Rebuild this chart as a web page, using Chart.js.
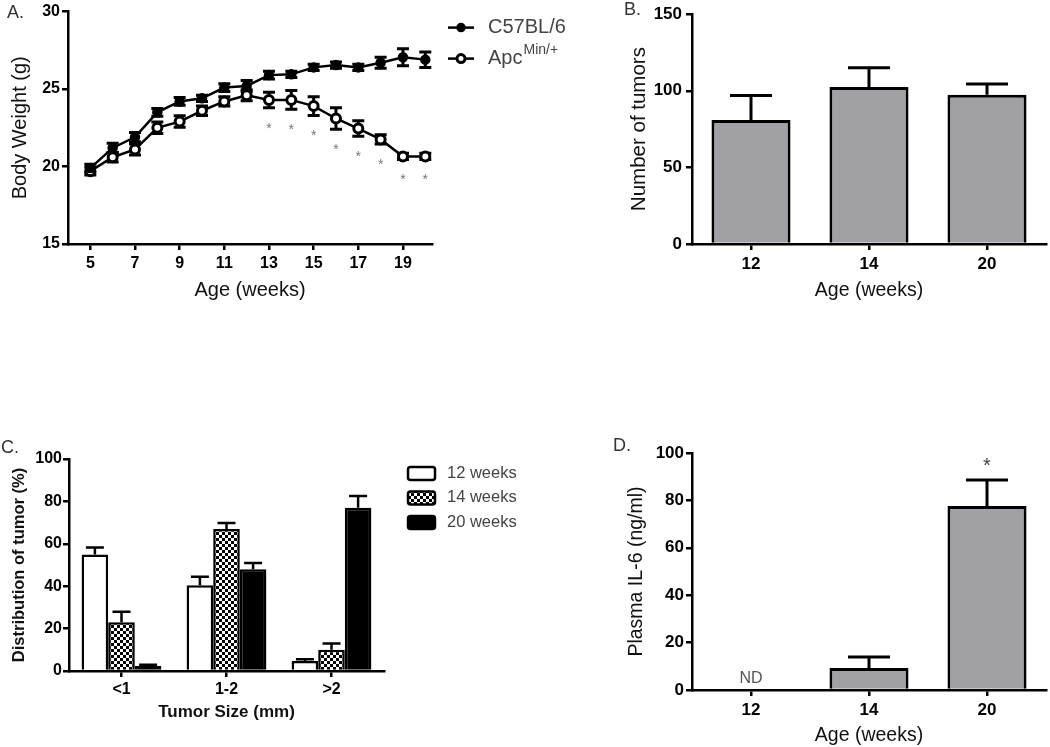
<!DOCTYPE html>
<html>
<head>
<meta charset="utf-8">
<script src="https://cdn.jsdelivr.net/npm/chart.js@4.4.1/dist/chart.umd.min.js"></script>
<style>
html, body { margin: 0; padding: 0; background: #fff; }
#fig { position: relative; width: 1050px; height: 747px; overflow: hidden; font-family: 'Liberation Sans', Arial, sans-serif; }
#fig canvas { position: absolute; }
.tag { position: absolute; font-size: 18px; color: #333; line-height: 20px; }
</style>
</head>
<body>
<div id="fig">
    <canvas id="chartA" width="600" height="310" style="left:0;top:0;width:600px;height:310px"></canvas>
    <canvas id="chartB" width="450" height="310" style="left:600px;top:0;width:450px;height:310px"></canvas>
    <canvas id="chartC" width="560" height="347" style="left:0;top:400px;width:560px;height:347px"></canvas>
    <canvas id="chartD" width="450" height="347" style="left:600px;top:400px;width:450px;height:347px"></canvas>
    <div class="tag" style="left:7px;top:2px">A.</div>
    <div class="tag" style="left:624px;top:-1px">B.</div>
    <div class="tag" style="left:1px;top:437px">C.</div>
    <div class="tag" style="left:613px;top:435px">D.</div>
</div>
<script>
// ---------- data ----------
// A: body weight
const weeks = [5, 6, 7, 8, 9, 10, 11, 12, 13, 14, 15, 16, 17, 18, 19, 20];
const c57Mean = [19.9, 21.2, 21.9, 23.5, 24.2, 24.4, 25.1, 25.2, 25.9, 25.95, 26.4, 26.55, 26.4, 26.7, 27.05, 26.9];
const c57Err = [0.25, 0.3, 0.3, 0.25, 0.25, 0.2, 0.25, 0.35, 0.25, 0.2, 0.2, 0.2, 0.2, 0.35, 0.55, 0.5];
const apcMean = [19.7, 20.6, 21.1, 22.5, 22.9, 23.6, 24.2, 24.6, 24.3, 24.3, 23.9, 23.1, 22.45, 21.75, 20.65, 20.65];
const apcErr = [0.25, 0.3, 0.35, 0.37, 0.37, 0.3, 0.3, 0.35, 0.5, 0.6, 0.6, 0.7, 0.5, 0.3, 0.2, 0.2];
const sigWeeks = [13, 14, 15, 16, 17, 18, 19, 20];
const seriesLabels = ['C57BL/6', 'Apc'];
const seriesSup = ['', 'Min/+'];
const weekTicks = [5, 7, 9, 11, 13, 15, 17, 19];
const weightTicks = [15, 20, 25, 30];

// B: number of tumors
const ageCats = ['12', '14', '20'];
const tumorMean = [81, 102.5, 97.5];
const tumorErr = [16, 12.5, 7];
const tumorTicks = [0, 50, 100, 150];

// C: tumor size distribution
const sizeCats = ['<1', '1-2', '>2'];
const groupLabels = ['12 weeks', '14 weeks', '20 weeks'];
const dist12 = [55, 40.5, 4.7];
const dist12Err = [3.3, 4, 0.8];
const dist14 = [23, 67, 10];
const dist14Err = [5, 2.8, 3];
const dist20 = [2.3, 48, 77];
const dist20Err = [0.7, 3, 5.5];
const distTicks = [0, 20, 40, 60, 80, 100];

// D: plasma IL-6
const il6Mean = [null, 9.3, 77.6];
const il6Err = [null, 4.6, 11];
const il6Sig = [false, false, true];
const il6Ticks = [0, 20, 40, 60, 80, 100];

// ---------- helpers ----------
Chart.defaults.font.family = "'Liberation Sans', Arial, sans-serif";
Chart.defaults.color = '#000';
Chart.defaults.animation = false;

function checker() {
    const c = document.createElement('canvas');
    c.width = 6; c.height = 6;
    const g = c.getContext('2d');
    g.fillStyle = '#fff'; g.fillRect(0, 0, 6, 6);
    g.fillStyle = '#000'; g.fillRect(0, 0, 3, 3); g.fillRect(3, 3, 3, 3);
    return g.createPattern(c, 'repeat');
}

function fixedTicks(list) {
    return s => { s.ticks = list.map(v => ({ value: v })); };
}

function axis(o) {
    return {
        type: o.type,
        min: o.min,
        max: o.max,
        offset: o.type === 'category',
        afterFit: s => { if (o.width) s.width = o.width; if (o.height) s.height = o.height; },
        afterBuildTicks: o.ticks ? fixedTicks(o.ticks) : undefined,
        border: { display: true, color: '#000', width: 2.5 },
        grid: { drawOnChartArea: false, drawTicks: true, tickLength: 6, color: '#000', lineWidth: 2.5, offset: false },
        ticks: { color: '#000', padding: o.tickPad, font: { size: o.tickSize, weight: 'bold' }, autoSkip: false, maxRotation: 0 },
        title: { display: true, text: o.title, color: '#111', padding: o.titlePad, font: { size: o.titleSize, weight: o.titleWeight || 'normal' } }
    };
}

const errorBars = {
    id: 'errorBars',
    beforeDatasetsDraw(chart, args, opts) { if (opts.behind) drawErrors(chart, opts); },
    afterDatasetsDraw(chart, args, opts) { if (!opts.behind) drawErrors(chart, opts); }
};

function drawErrors(chart, opts) {
    const ctx = chart.ctx;
    const y = chart.scales.y;
    chart.data.datasets.forEach((ds, i) => {
        if (!ds.errors) return;
        chart.getDatasetMeta(i).data.forEach((el, j) => {
            const raw = ds.data[j];
            const v = raw && typeof raw === 'object' ? raw.y : raw;
            const e = ds.errors[j];
            if (v == null || e == null) return;
            const x = el.x;
            const top = y.getPixelForValue(v + e);
            const bot = y.getPixelForValue(opts.upOnly ? v : v - e);
            ctx.save();
            ctx.strokeStyle = '#000';
            ctx.lineWidth = opts.lineWidth;
            ctx.beginPath();
            ctx.moveTo(x, bot); ctx.lineTo(x, top);
            ctx.moveTo(x - opts.cap, top); ctx.lineTo(x + opts.cap, top);
            if (!opts.upOnly) { ctx.moveTo(x - opts.cap, bot); ctx.lineTo(x + opts.cap, bot); }
            ctx.stroke();
            ctx.restore();
        });
    });
}

// ---------- A ----------
const legendA = {
    id: 'legendA',
    afterDraw(chart) {
        const ctx = chart.ctx;
        const x0 = chart.chartArea.right + 16;
        chart.data.datasets.forEach((ds, i) => {
            const yy = chart.chartArea.top + 16 + i * 31;
            ctx.save();
            ctx.strokeStyle = '#000'; ctx.lineWidth = 2.5;
            ctx.beginPath(); ctx.moveTo(x0, yy); ctx.lineTo(x0 + 26, yy); ctx.stroke();
            ctx.beginPath(); ctx.arc(x0 + 13, yy, 4, 0, Math.PI * 2);
            ctx.fillStyle = ds.pointBackgroundColor; ctx.fill();
            ctx.lineWidth = ds.pointBorderWidth; ctx.stroke();
            ctx.fillStyle = '#444';
            ctx.font = "20px 'Liberation Sans', Arial, sans-serif";
            ctx.textBaseline = 'middle';
            ctx.fillText(ds.label, x0 + 40, yy);
            if (seriesSup[i]) {
                const w = ctx.measureText(ds.label).width;
                ctx.font = "14px 'Liberation Sans', Arial, sans-serif";
                ctx.fillText(seriesSup[i], x0 + 41 + w, yy - 8);
            }
            ctx.restore();
        });
    }
};

const starsA = {
    id: 'starsA',
    afterDraw(chart) {
        const ctx = chart.ctx;
        const xs = chart.scales.x, ys = chart.scales.y;
        ctx.save();
        ctx.fillStyle = '#777';
        ctx.font = "14px 'Liberation Sans', Arial, sans-serif";
        ctx.textAlign = 'center';
        ctx.textBaseline = 'middle';
        sigWeeks.forEach(w => {
            const j = weeks.indexOf(w);
            ctx.fillText('*', xs.getPixelForValue(w), ys.getPixelForValue(apcMean[j] - apcErr[j]) + 21);
        });
        ctx.restore();
    }
};

new Chart(document.getElementById('chartA'), {
    type: 'line',
    data: {
        datasets: [
            {
                label: seriesLabels[0],
                data: weeks.map((w, i) => ({ x: w, y: c57Mean[i] })),
                errors: c57Err,
                borderColor: '#000', borderWidth: 2.5,
                pointRadius: 4.5, pointBackgroundColor: '#000', pointBorderColor: '#000', pointBorderWidth: 1.5,
                tension: 0
            },
            {
                label: seriesLabels[1],
                data: weeks.map((w, i) => ({ x: w, y: apcMean[i] })),
                errors: apcErr,
                borderColor: '#000', borderWidth: 2.5,
                pointRadius: 4.5, pointBackgroundColor: '#fff', pointBorderColor: '#000', pointBorderWidth: 3,
                tension: 0
            }
        ]
    },
    options: {
        responsive: false,
        layout: { padding: { top: 9, right: 168, left: 0, bottom: 0 } },
        plugins: {
            legend: { display: false }, tooltip: { enabled: false },
            errorBars: { behind: true, cap: 6, lineWidth: 3 }
        },
        scales: {
            x: axis({ type: 'linear', min: 4, max: 20.3, ticks: weekTicks, height: 66, tickSize: 16, tickPad: 4,
                title: 'Age (weeks)', titleSize: 20, titlePad: { bottom: 8 } }),
            y: axis({ type: 'linear', min: 15, max: 30, ticks: weightTicks, width: 68, tickSize: 16, tickPad: 2,
                title: 'Body Weight (g)', titleSize: 20, titlePad: { top: 8 } })
        }
    },
    plugins: [errorBars, legendA, starsA]
});

// ---------- B ----------
new Chart(document.getElementById('chartB'), {
    type: 'bar',
    data: {
        labels: ageCats,
        datasets: [{
            data: tumorMean, errors: tumorErr,
            backgroundColor: '#a1a0a5', borderColor: '#000', borderWidth: 3,
            barPercentage: 0.67, categoryPercentage: 1
        }]
    },
    options: {
        responsive: false,
        layout: { padding: { top: 8, right: 4, left: 0, bottom: 0 } },
        plugins: {
            legend: { display: false }, tooltip: { enabled: false },
            errorBars: { upOnly: true, cap: 21, lineWidth: 3 }
        },
        scales: {
            x: axis({ type: 'category', height: 66, tickSize: 17, tickPad: 4,
                title: 'Age (weeks)', titleSize: 19.5, titlePad: { bottom: 8 } }),
            y: axis({ type: 'linear', min: 0, max: 150, ticks: tumorTicks, width: 92, tickSize: 17, tickPad: 4,
                title: 'Number of tumors', titleSize: 20.5, titlePad: { top: 27 } })
        }
    },
    plugins: [errorBars]
});

// ---------- C ----------
const checks = checker();
const legendC = {
    id: 'legendC',
    afterDraw(chart) {
        const ctx = chart.ctx;
        const x0 = chart.chartArea.right + 24;
        chart.data.datasets.forEach((ds, i) => {
            const yy = chart.chartArea.top + 14 + i * 24.5;
            ctx.save();
            ctx.beginPath();
            ctx.roundRect(x0, yy - 6, 27, 13, 2.5);
            ctx.fillStyle = ds.backgroundColor; ctx.fill();
            ctx.strokeStyle = '#000'; ctx.lineWidth = 2.5; ctx.stroke();
            ctx.fillStyle = '#444';
            ctx.font = "16.5px 'Liberation Sans', Arial, sans-serif";
            ctx.textBaseline = 'middle';
            ctx.fillText(ds.label, x0 + 39, yy);
            ctx.restore();
        });
    }
};

const barC = { borderColor: '#000', borderWidth: 2.5, barPercentage: 1, categoryPercentage: 0.76 };
new Chart(document.getElementById('chartC'), {
    type: 'bar',
    data: {
        labels: sizeCats,
        datasets: [
            Object.assign({ label: groupLabels[0], data: dist12, errors: dist12Err, backgroundColor: '#fff' }, barC),
            Object.assign({ label: groupLabels[1], data: dist14, errors: dist14Err, backgroundColor: checks }, barC),
            Object.assign({ label: groupLabels[2], data: dist20, errors: dist20Err, backgroundColor: '#000' }, barC)
        ]
    },
    options: {
        responsive: false,
        layout: { padding: { top: 59, right: 176, left: 0, bottom: 0 } },
        plugins: {
            legend: { display: false }, tooltip: { enabled: false },
            errorBars: { upOnly: true, cap: 9, lineWidth: 2.5 }
        },
        scales: {
            x: axis({ type: 'category', height: 76, tickSize: 16, tickPad: 3,
                title: 'Tumor Size (mm)', titleSize: 17, titleWeight: 'bold', titlePad: { bottom: 24 } }),
            y: axis({ type: 'linear', min: 0, max: 100, ticks: distTicks, width: 69, tickSize: 16, tickPad: 1,
                title: 'Distribution of tumor (%)', titleSize: 16.5, titleWeight: 'bold', titlePad: { top: 10 } })
        }
    },
    plugins: [errorBars, legendC]
});

// ---------- D ----------
const marksD = {
    id: 'marksD',
    afterDraw(chart) {
        const ctx = chart.ctx;
        const xs = chart.scales.x, ys = chart.scales.y;
        ctx.save();
        ctx.textAlign = 'center';
        ctx.textBaseline = 'middle';
        ageCats.forEach((c, j) => {
            const x = xs.getPixelForValue(j);
            if (il6Mean[j] == null) {
                ctx.fillStyle = '#555';
                ctx.font = "16px 'Liberation Sans', Arial, sans-serif";
                ctx.fillText('ND', x, ys.getPixelForValue(0) - 11);
            } else if (il6Sig[j]) {
                ctx.fillStyle = '#444';
                ctx.font = "20px 'Liberation Sans', Arial, sans-serif";
                ctx.fillText('*', x, ys.getPixelForValue(il6Mean[j] + il6Err[j]) - 14);
            }
        });
        ctx.restore();
    }
};

new Chart(document.getElementById('chartD'), {
    type: 'bar',
    data: {
        labels: ageCats,
        datasets: [{
            data: il6Mean, errors: il6Err,
            backgroundColor: '#a1a0a5', borderColor: '#000', borderWidth: 3,
            barPercentage: 0.67, categoryPercentage: 1
        }]
    },
    options: {
        responsive: false,
        layout: { padding: { top: 53, right: 4, left: 0, bottom: 0 } },
        plugins: {
            legend: { display: false }, tooltip: { enabled: false },
            errorBars: { upOnly: true, cap: 21, lineWidth: 3 }
        },
        scales: {
            x: axis({ type: 'category', height: 57, tickSize: 17, tickPad: 4,
                title: 'Age (weeks)', titleSize: 19.5, titlePad: { bottom: 0 } }),
            y: axis({ type: 'linear', min: 0, max: 100, ticks: il6Ticks, width: 92, tickSize: 17, tickPad: 2,
                title: 'Plasma IL-6 (ng/ml)', titleSize: 19.5, titlePad: { top: 25 } })
        }
    },
    plugins: [errorBars, marksD]
});
</script>
</body>
</html>
